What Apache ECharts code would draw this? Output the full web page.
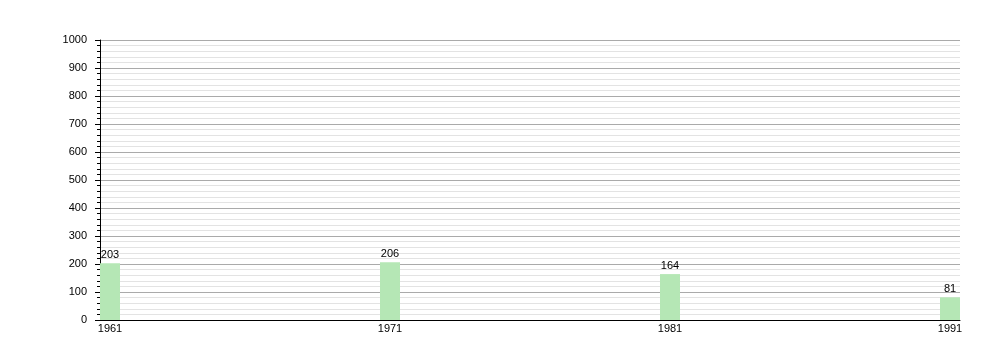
<!DOCTYPE html>
<html>
<head>
<meta charset="utf-8">
<script src="https://cdn.jsdelivr.net/npm/echarts@6/dist/echarts.min.js"></script>
<style>html,body{margin:0;padding:0;background:#fff;}#c{width:1000px;height:360px;}</style>
</head>
<body>
<div id="c"></div>
<script>
var years = [1961, 1971, 1981, 1991];
var values = [203, 206, 164, 81];
var yTicks = [0, 100, 200, 300, 400, 500, 600, 700, 800, 900, 1000];

var chart = echarts.init(document.getElementById('c'), null, {renderer: 'canvas'});
var font = 'Liberation Sans, Arial, sans-serif';
chart.setOption({
  animation: false,
  grid: {left: 100, right: 40, top: 40, bottom: 40},
  xAxis: {
    type: 'value',
    min: 1961 - 5/14,
    max: 1991 + 5/14,
    axisLine: {show: true, lineStyle: {color: '#000', width: 1}},
    axisTick: {show: false},
    splitLine: {show: false},
    axisLabel: {customValues: years, color: '#000', fontSize: 11, fontFamily: font, margin: 3,
      formatter: function (v) { return String(Math.round(v)); }}
  },
  yAxis: {
    type: 'value',
    min: 0, max: 1000, interval: 100,
    axisLine: {show: true, lineStyle: {color: '#000', width: 1}},
    axisTick: {show: true, length: 5, lineStyle: {color: '#000'}},
    minorTick: {show: true, splitNumber: 5, length: 3, lineStyle: {color: '#000'}},
    splitLine: {show: true, lineStyle: {color: '#aaa', width: 1}},
    minorSplitLine: {show: true, lineStyle: {color: '#e3e3e3', width: 1}},
    axisLabel: {color: '#000', fontSize: 11, fontFamily: font, margin: 13,
      formatter: function (v) { return String(v); }}
  },
  series: [{
    type: 'bar',
    barWidth: 20,
    data: years.map(function (y, i) { return [y, values[i]]; }),
    itemStyle: {color: '#b5e7b5'},
    label: {show: true, position: 'top', color: '#000', fontSize: 11, fontFamily: font, distance: 3}
  }]
});
</script>
</body>
</html>
